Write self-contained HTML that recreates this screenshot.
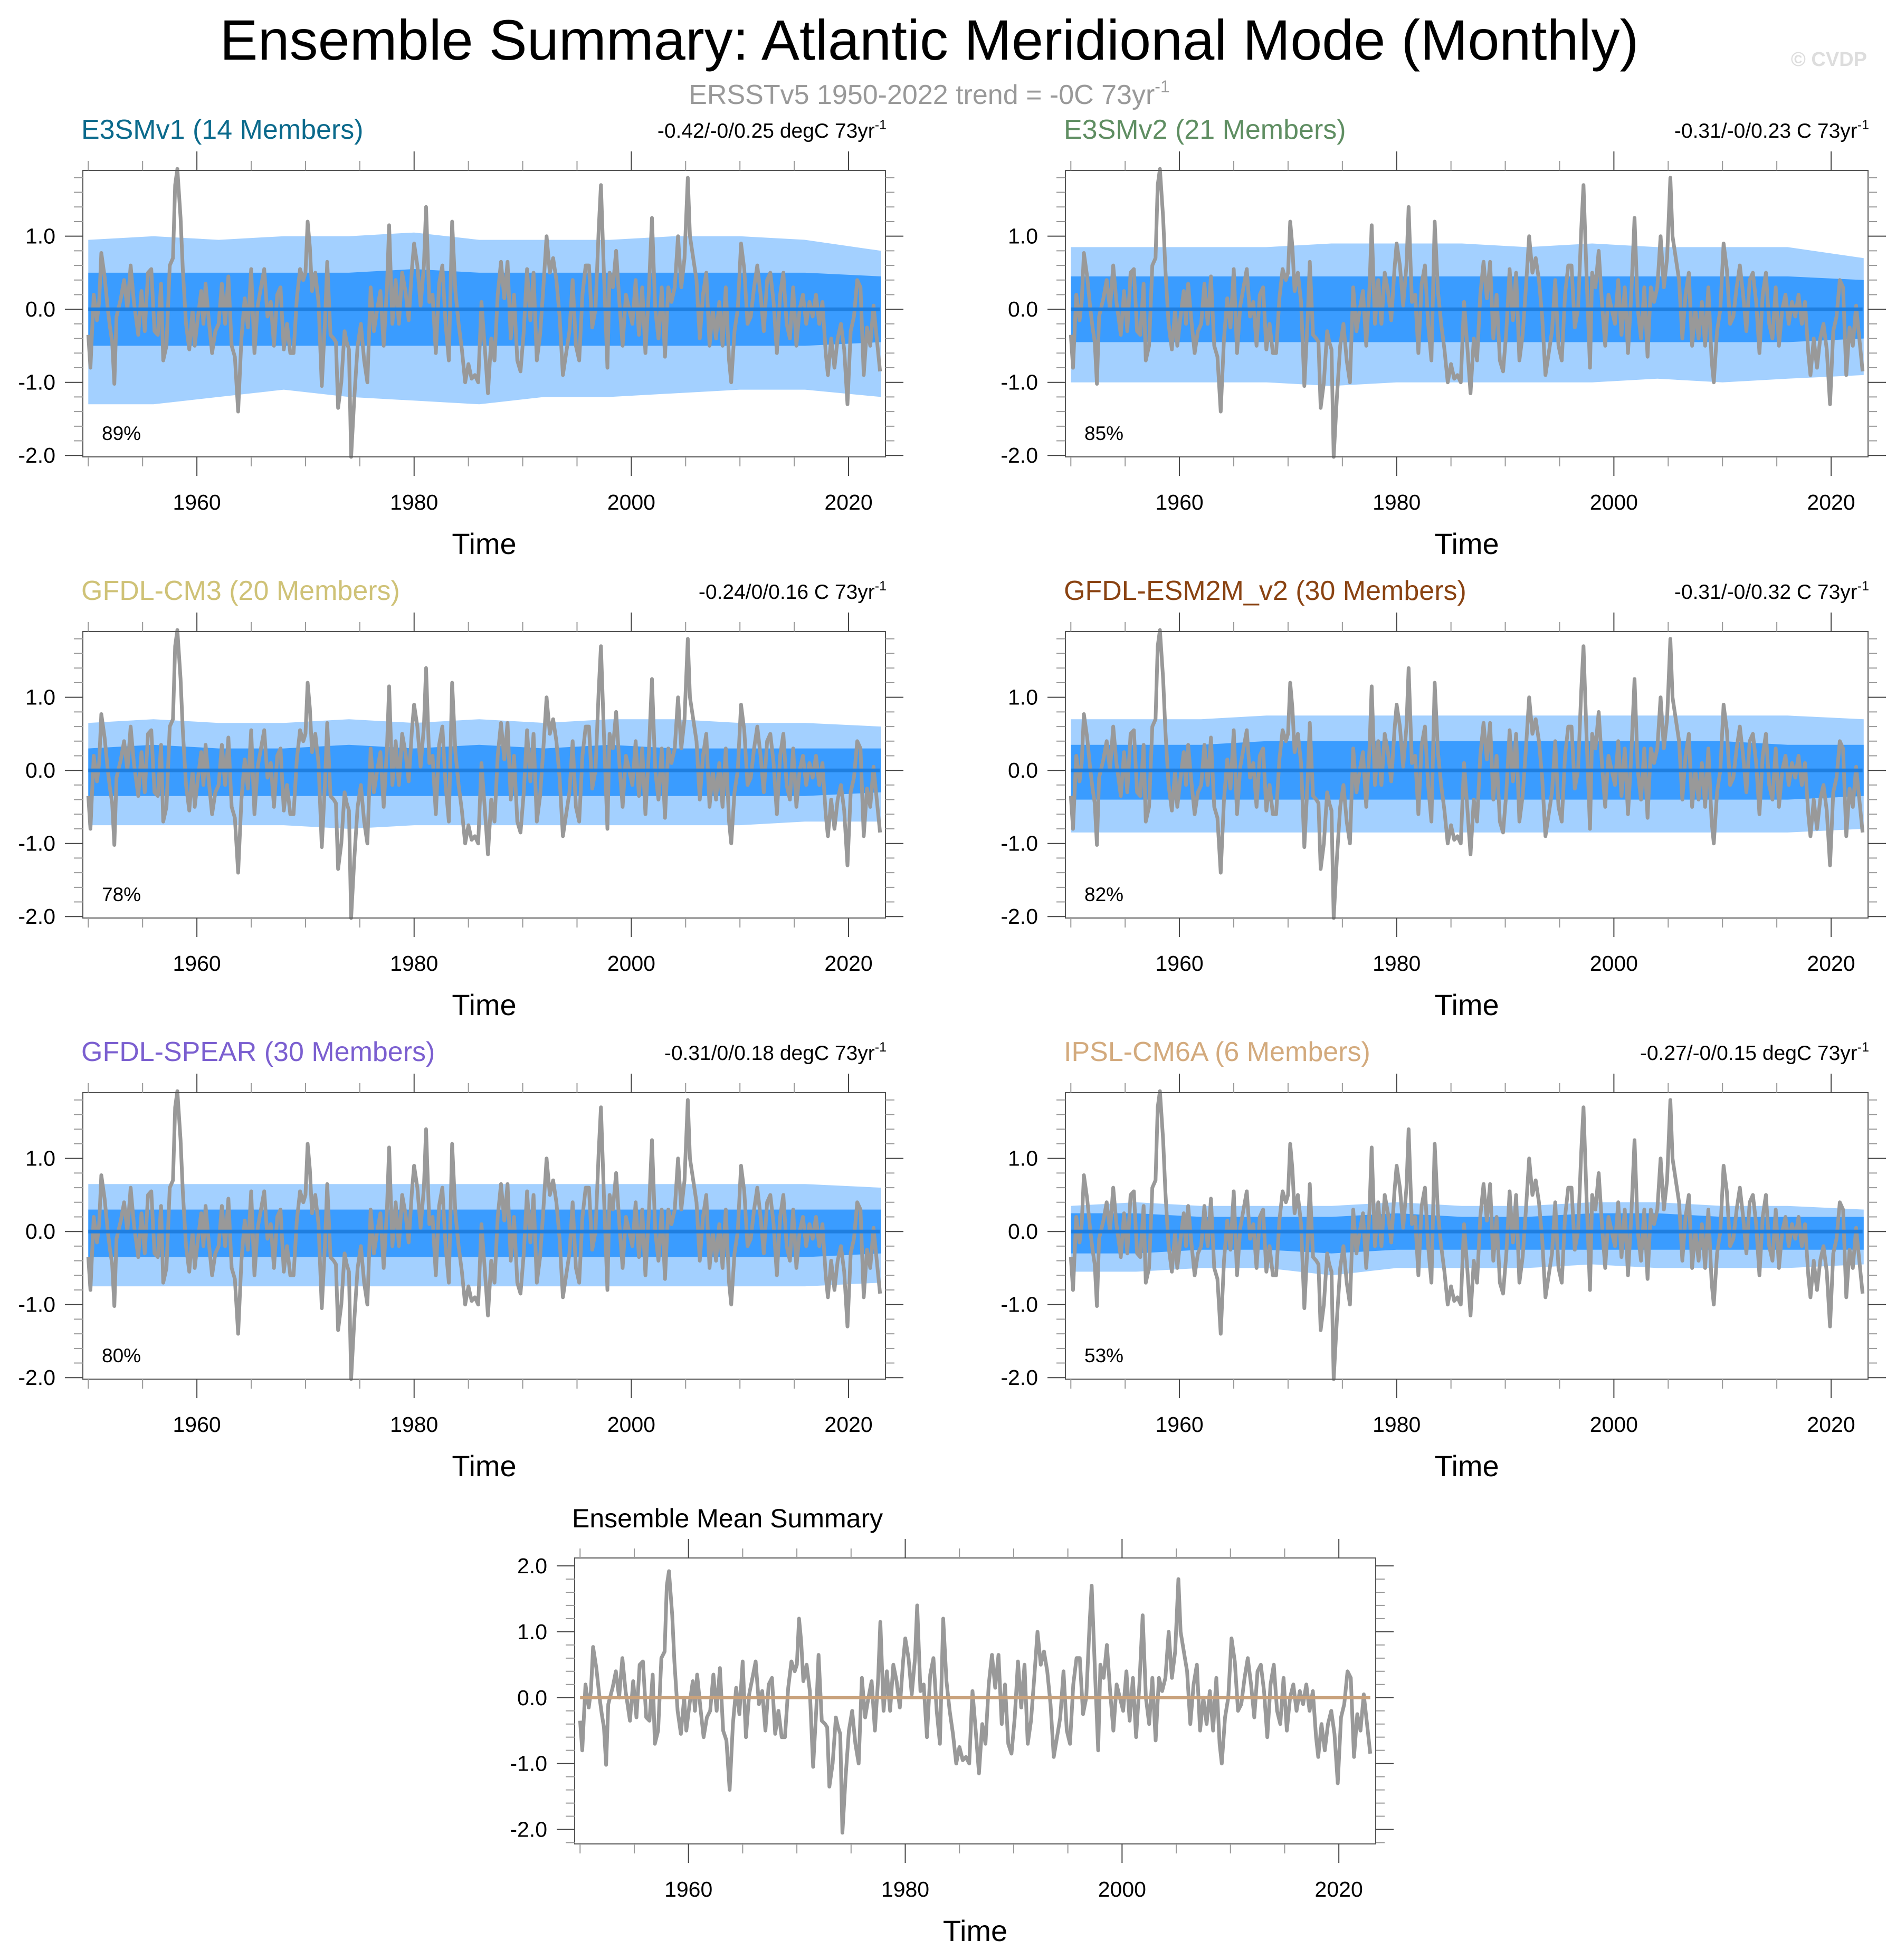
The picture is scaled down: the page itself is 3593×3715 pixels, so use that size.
<!DOCTYPE html>
<html><head><meta charset="utf-8"><style>
html,body{margin:0;padding:0;background:#fff;}
svg{display:block;font-family:"Liberation Sans",sans-serif;}
</style></head><body>
<svg id="root" width="3593" height="3715" viewBox="0 0 3593 3715" xmlns="http://www.w3.org/2000/svg">
<text x="1761" y="113" font-size="108" text-anchor="middle" fill="#000">Ensemble Summary: Atlantic Meridional Mode (Monthly)</text>
<text x="1761" y="197" font-size="52" text-anchor="middle" fill="#999">ERSSTv5 1950-2022 trend = -0C 73yr<tspan font-size="32" dy="-22">-1</tspan></text>
<text x="3538" y="125" font-size="38" font-weight="bold" text-anchor="end" fill="#ddd">© CVDP</text>
<g id="panels"></g>
</svg>
<script>
const obsYears = [1950.0,1950.2,1950.5,1950.8,1951.0,1951.2,1951.5,1951.8,1952.0,1952.2,1952.4,1952.6,1953.0,1953.3,1953.6,1953.9,1954.2,1954.6,1954.9,1955.2,1955.5,1955.8,1956.1,1956.4,1956.7,1956.9,1957.2,1957.5,1957.8,1958.0,1958.2,1958.5,1958.7,1959.0,1959.3,1959.6,1959.8,1960.1,1960.4,1960.6,1960.8,1961.1,1961.4,1961.7,1962.0,1962.3,1962.6,1962.9,1963.2,1963.5,1963.8,1964.1,1964.4,1964.7,1965.0,1965.3,1965.6,1965.9,1966.2,1966.5,1966.8,1967.1,1967.4,1967.7,1968.0,1968.3,1968.6,1968.9,1969.2,1969.5,1969.8,1970.0,1970.2,1970.4,1970.6,1970.9,1971.2,1971.5,1971.8,1972.0,1972.3,1972.6,1972.8,1973.0,1973.3,1973.6,1973.8,1974.0,1974.2,1974.5,1974.8,1975.1,1975.4,1975.7,1976.0,1976.3,1976.6,1976.9,1977.2,1977.5,1977.7,1978.0,1978.3,1978.6,1978.9,1979.2,1979.5,1979.8,1980.0,1980.3,1980.6,1980.9,1981.1,1981.4,1981.7,1982.0,1982.3,1982.6,1982.9,1983.2,1983.5,1983.8,1984.1,1984.4,1984.7,1985.0,1985.3,1985.6,1985.9,1986.2,1986.5,1986.8,1987.1,1987.4,1987.7,1988.0,1988.3,1988.6,1988.9,1989.2,1989.5,1989.8,1990.1,1990.4,1990.7,1991.0,1991.3,1991.6,1991.9,1992.2,1992.5,1992.8,1993.1,1993.4,1993.7,1994.0,1994.3,1994.6,1994.9,1995.2,1995.5,1995.8,1996.1,1996.4,1996.7,1997.0,1997.2,1997.5,1997.8,1998.0,1998.3,1998.6,1998.9,1999.2,1999.5,1999.8,2000.1,2000.4,2000.7,2001.0,2001.3,2001.6,2001.9,2002.2,2002.5,2002.8,2003.1,2003.4,2003.7,2004.0,2004.3,2004.6,2004.9,2005.2,2005.4,2005.7,2006.0,2006.3,2006.6,2006.9,2007.2,2007.5,2007.8,2008.1,2008.4,2008.7,2009.0,2009.2,2009.5,2009.8,2010.1,2010.4,2010.7,2011.0,2011.3,2011.6,2011.9,2012.2,2012.5,2012.8,2013.1,2013.4,2013.7,2014.0,2014.3,2014.6,2014.9,2015.2,2015.5,2015.8,2016.1,2016.4,2016.7,2017.0,2017.3,2017.6,2017.9,2018.1,2018.4,2018.7,2019.0,2019.3,2019.6,2019.9,2020.2,2020.5,2020.8,2021.1,2021.4,2021.7,2022.0,2022.3,2022.6,2022.9];
const obsValues = [-0.35,-0.8,0.2,-0.15,0.1,0.77,0.45,0.0,-0.25,-0.45,-1.02,-0.1,0.15,0.4,0.0,0.6,0.1,-0.35,0.25,-0.3,0.5,0.55,-0.3,-0.35,0.35,-0.7,-0.5,0.6,0.7,1.7,1.92,1.25,0.55,-0.2,-0.55,0.0,-0.5,-0.1,0.25,-0.2,0.35,-0.15,-0.6,-0.3,-0.2,0.35,-0.2,0.45,-0.5,-0.65,-1.4,-0.4,0.15,-0.25,0.55,-0.6,0.05,0.3,0.55,-0.1,0.1,-0.5,0.2,0.3,-0.55,-0.2,-0.6,-0.6,0.15,0.55,0.4,0.5,1.2,0.85,0.25,0.5,0.1,-1.05,-0.15,0.65,-0.35,-0.4,-0.45,-1.35,-1.0,-0.3,-0.45,-0.55,-2.05,-1.2,-0.5,-0.2,-0.7,-1.0,0.3,-0.3,0.0,0.25,-0.5,0.3,1.15,-0.2,0.4,-0.2,0.5,0.25,-0.15,0.55,0.9,0.6,0.05,0.6,1.4,0.1,0.2,-0.6,0.35,0.6,-0.2,-0.7,1.2,0.25,-0.2,-0.55,-1.0,-0.75,-0.95,-0.9,-1.0,0.1,-0.5,-1.15,-0.4,-0.7,0.2,0.65,0.15,0.65,-0.4,0.2,-0.7,-0.85,-0.3,0.55,-0.15,0.5,-0.7,-0.35,0.3,1.0,0.5,0.7,0.4,-0.1,-0.9,-0.6,-0.3,0.4,-0.5,-0.7,0.2,0.6,0.6,-0.25,0.0,1.1,1.7,0.4,-0.8,0.5,0.3,0.8,0.1,-0.5,0.2,0.0,-0.2,0.4,-0.35,0.3,-0.6,0.2,1.25,0.0,-0.4,0.3,-0.65,0.3,0.1,0.3,1.0,0.3,0.7,1.8,1.0,0.7,0.4,-0.4,0.2,0.5,-0.5,0.0,-0.4,0.1,-0.5,0.3,-0.7,-1.0,-0.3,0.0,0.9,0.55,-0.2,-0.1,0.3,0.6,0.2,-0.3,0.4,0.5,0.1,-0.6,0.2,0.5,-0.2,-0.4,0.3,-0.5,0.0,0.2,-0.2,0.1,-0.1,0.2,-0.2,0.1,-0.6,-0.9,-0.4,-0.8,-0.4,-0.2,-0.55,-1.3,-0.3,-0.1,0.4,0.3,-0.9,-0.25,-0.5,0.05,-0.4,-0.85];

// Ensemble spread envelopes, sampled every 6 years from 1950 (13 values each)
const bandYears = [1950,1956,1962,1968,1974,1980,1986,1992,1998,2004,2010,2016,2023];
const panelNames = ["E3SMv1 (14 Members)","E3SMv2 (21 Members)","GFDL-CM3 (20 Members)","GFDL-ESM2M_v2 (30 Members)","GFDL-SPEAR (30 Members)","IPSL-CM6A (6 Members)"];
const panelTrends = ["-0.42/-0/0.25 degC 73yr","-0.31/-0/0.23 C 73yr","-0.24/0/0.16 C 73yr","-0.31/-0/0.32 C 73yr","-0.31/0/0.18 degC 73yr","-0.27/-0/0.15 degC 73yr"];
const panelPercents = ["89%","85%","78%","82%","80%","53%"];
const lightUpper = [
 [0.95,1.0,0.95,1.0,1.0,1.05,0.95,0.95,0.95,1.0,1.0,0.95,0.8],
 [0.85,0.85,0.85,0.85,0.9,0.9,0.9,0.85,0.9,0.85,0.85,0.85,0.7],
 [0.65,0.7,0.65,0.65,0.7,0.65,0.7,0.65,0.7,0.7,0.65,0.65,0.6],
 [0.7,0.7,0.7,0.75,0.75,0.75,0.75,0.75,0.75,0.75,0.75,0.75,0.7],
 [0.65,0.65,0.65,0.65,0.65,0.65,0.65,0.65,0.65,0.65,0.65,0.65,0.6],
 [0.35,0.4,0.35,0.35,0.35,0.4,0.35,0.35,0.4,0.4,0.35,0.35,0.3]];
const lightLower = [
 [-1.3,-1.3,-1.2,-1.1,-1.2,-1.25,-1.3,-1.2,-1.2,-1.15,-1.1,-1.1,-1.2],
 [-1.0,-1.0,-1.0,-1.0,-1.05,-1.0,-1.0,-1.0,-1.0,-0.95,-1.0,-0.95,-0.9],
 [-0.75,-0.75,-0.75,-0.75,-0.8,-0.75,-0.75,-0.75,-0.75,-0.75,-0.75,-0.7,-0.7],
 [-0.85,-0.85,-0.85,-0.85,-0.85,-0.85,-0.85,-0.85,-0.85,-0.85,-0.85,-0.85,-0.8],
 [-0.75,-0.75,-0.75,-0.75,-0.75,-0.75,-0.75,-0.75,-0.75,-0.75,-0.75,-0.75,-0.7],
 [-0.55,-0.55,-0.5,-0.5,-0.6,-0.5,-0.5,-0.5,-0.45,-0.5,-0.5,-0.5,-0.45]];
const darkUpper = [
 [0.5,0.5,0.5,0.5,0.5,0.55,0.5,0.5,0.5,0.5,0.5,0.5,0.45],
 [0.45,0.45,0.45,0.45,0.45,0.45,0.45,0.45,0.45,0.45,0.45,0.45,0.4],
 [0.3,0.35,0.3,0.3,0.35,0.3,0.35,0.3,0.35,0.3,0.3,0.3,0.3],
 [0.35,0.35,0.35,0.4,0.4,0.4,0.4,0.4,0.4,0.4,0.4,0.35,0.35],
 [0.3,0.3,0.3,0.3,0.3,0.3,0.3,0.3,0.3,0.3,0.3,0.3,0.3],
 [0.25,0.25,0.2,0.2,0.2,0.25,0.2,0.2,0.25,0.25,0.2,0.2,0.2]];
const darkLower = [
 [-0.5,-0.5,-0.5,-0.5,-0.5,-0.5,-0.5,-0.5,-0.5,-0.5,-0.5,-0.5,-0.45],
 [-0.45,-0.45,-0.45,-0.45,-0.45,-0.45,-0.45,-0.45,-0.45,-0.45,-0.45,-0.45,-0.4],
 [-0.35,-0.35,-0.35,-0.35,-0.35,-0.35,-0.35,-0.35,-0.35,-0.35,-0.35,-0.35,-0.3],
 [-0.4,-0.4,-0.4,-0.4,-0.4,-0.4,-0.4,-0.4,-0.4,-0.4,-0.4,-0.4,-0.35],
 [-0.35,-0.35,-0.35,-0.35,-0.35,-0.35,-0.35,-0.35,-0.35,-0.35,-0.35,-0.35,-0.3],
 [-0.3,-0.3,-0.25,-0.25,-0.3,-0.25,-0.25,-0.25,-0.25,-0.25,-0.25,-0.25,-0.25]];
const titleColors = ["#0b6a8c","#5f8e62","#cfc277","#8a4312","#7b5fd0","#d3aa7d"];
const xTickYears = [1960,1980,2000,2020];

const NS = "http://www.w3.org/2000/svg";
const root = document.getElementById("panels");
function mk(tag, attrs, parent){
  const e = document.createElementNS(NS, tag);
  for (const k in attrs) e.setAttribute(k, attrs[k]);
  (parent||root).appendChild(e);
  return e;
}
function drawPanel(idx, L, T, W, H, ymin, ymax, yLabels, bottomPanel){
  const g = mk("g", {});
  
  
  const xs = y => L + (y - 1949.5) / (2023.4 - 1949.5) * W;
  const ys = v => T + (ymax - v) / (ymax - ymin) * H;
  if (!bottomPanel) {
    const band = (up, lo, color, nm) => {
      let d = "";
      bandYears.forEach((yr,i) => { d += (i ? "L" : "M") + xs(yr).toFixed(1) + "," + ys(up[i]).toFixed(1); });
      for (let i = bandYears.length-1; i >= 0; i--) d += "L" + xs(bandYears[i]).toFixed(1) + "," + ys(lo[i]).toFixed(1);
      const p = mk("path", {d: d + "Z", fill: color}, g);
      
      
    };
    band(lightUpper[idx], lightLower[idx], "#a3d0ff", "spread-band-outer");
    band(darkUpper[idx], darkLower[idx], "#3a9cff", "spread-band-inner");
  }
  let d = "";
  obsYears.forEach((yr,i) => { d += (i ? "L" : "M") + xs(yr).toFixed(1) + "," + ys(Math.max(ymin, obsValues[i])).toFixed(1); });
  const ol = mk("path", {d: d, fill: "none", stroke: "#999", "stroke-width": 7, "stroke-linejoin": "round"}, g);
  
  
  const ml = mk("line", {x1: xs(1950), x2: xs(2022.9), y1: ys(0), y2: ys(0), stroke: bottomPanel ? "#c9a27c" : "#1f7fe0", "stroke-width": bottomPanel ? 6 : 7}, g);
  
  
  const bx = mk("rect", {x: L, y: T, width: W, height: H, fill: "none", stroke: "#555", "stroke-width": 2}, g);
  
  
  for (let yr = 1950; yr <= 2020; yr += 5) {
    const major = yr % 20 === 0;
    const len = major ? 36 : 18;
    const x = xs(yr);
    mk("line", {x1: x, x2: x, y1: T, y2: T - len, stroke: major ? "#444" : "#999", "stroke-width": 2}, g);
    mk("line", {x1: x, x2: x, y1: T + H, y2: T + H + len, stroke: major ? "#444" : "#999", "stroke-width": 2}, g);
  }
  xTickYears.forEach(yr => {
    const t = mk("text", {x: xs(yr), y: T + H + 100, "font-size": 41, "text-anchor": "middle"}, g);
    t.textContent = yr;
    
    
  });
  for (let v = Math.ceil(ymin * 5) / 5; v <= ymax + 1e-6; v += 0.2) {
    const vv = Math.round(v * 10) / 10;
    const major = Math.abs(vv - Math.round(vv)) < 1e-6;
    const len = major ? 34 : 17;
    const y = ys(vv);
    mk("line", {x1: L, x2: L - len, y1: y, y2: y, stroke: major ? "#444" : "#999", "stroke-width": 2}, g);
    mk("line", {x1: L + W, x2: L + W + len, y1: y, y2: y, stroke: major ? "#444" : "#999", "stroke-width": 2}, g);
  }
  yLabels.forEach(v => {
    const t = mk("text", {x: L - 52, y: ys(v) + 14, "font-size": 41, "text-anchor": "end"}, g);
    t.textContent = v.toFixed(1);
    
    
  });
  const xt = mk("text", {x: L + W / 2, y: T + H + 184, "font-size": 56, "text-anchor": "middle"}, g);
  xt.textContent = "Time";
  
  
  if (bottomPanel) {
    const tt = mk("text", {x: L - 5, y: T - 58, "font-size": 50}, g);
    tt.textContent = "Ensemble Mean Summary";
    
    
  } else {
    const tt = mk("text", {x: L - 3, y: T - 60, "font-size": 52, fill: titleColors[idx]}, g);
    tt.textContent = panelNames[idx];
    
    
    const tr = mk("text", {x: L + W + 2, y: T - 62, "font-size": 39, "text-anchor": "end"}, g);
    tr.textContent = panelTrends[idx];
    const sup = mk("tspan", {"font-size": 25, dy: -16}, tr);
    sup.textContent = "-1";
    
    
    const pc = mk("text", {x: L + 36, y: T + H - 32, "font-size": 37}, g);
    pc.textContent = panelPercents[idx];
    
    
  }
}
for (let i = 0; i < 6; i++) {
  const c = i % 2, r = Math.floor(i / 2);
  drawPanel(i, 157 + c * 1862, 323 + r * 874, 1521, 543, -2.02, 1.9, [1.0, 0.0, -1.0, -2.0], false);
}
drawPanel(6, 1089, 2953, 1518, 542, -2.22, 2.12, [2.0, 1.0, 0.0, -1.0, -2.0], true);
</script>
</body></html>
